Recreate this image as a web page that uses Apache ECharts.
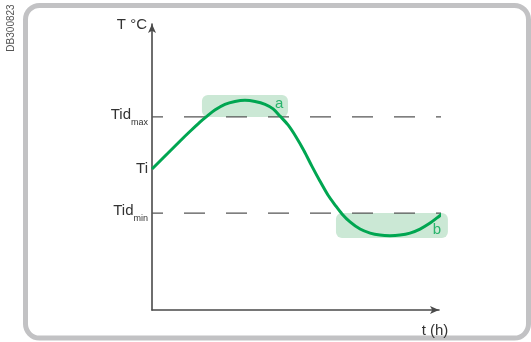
<!DOCTYPE html>
<html>
<head>
<meta charset="utf-8">
<script src="https://cdn.jsdelivr.net/npm/echarts@6/dist/echarts.min.js"></script>
<style>
  html, body { margin: 0; padding: 0; background: #fff; }
  #chart { width: 531px; height: 342px; }
</style>
</head>
<body>
<div id="chart"></div>
<script>
// temperature curve (t in % of the time axis, T in % of the temperature axis)
const curveTime = [0, 2.8, 6.3, 9.8, 13.2, 16.7, 19.2, 21.9, 25.4, 28.9, 32.4, 35.9, 39.4, 42.2, 44.6, 47.4, 50.2,
  53.0, 55.7, 58.5, 61.3, 63.8, 66.2, 69.0, 72.5, 76.0, 79.4, 82.9, 86.4, 89.9, 93.4, 96.9, 99.3, 101.4];
const curveTemp = [49.3, 52.1, 55.6, 59.1, 62.4, 65.7, 67.8, 69.9, 71.9, 72.9, 73.3, 72.9, 71.9, 70.3, 67.8, 64.7, 60.5,
  55.6, 50.3, 45.1, 40.2, 36.7, 33.6, 30.8, 28.3, 26.9, 26.2, 26.0, 26.2, 26.9, 28.3, 30.4, 32.2, 33.9];

// named levels on the temperature axis
const levelValues = [33.9, 49.3, 67.5];
const levelLabels = ['{t|Tid}{s|min}', '{n|Ti}', '{t|Tid}{s|max}'];
const dashedLevels = [67.5, 33.9];
const dashEnd = 100.7;

// highlighted zones a / b
const zoneNames = ['a', 'b'];
const zoneTime0 = [17.4, 64.1];
const zoneTime1 = [47.4, 103.1];
const zoneTemp0 = [67.5, 25.2];
const zoneTemp1 = [75.2, 33.9];
const zoneLabelTime = [44.3, 99.3];
const zoneLabelTemp = [72.0, 28.0];

const green = '#00a651';
const font = 'Liberation Sans, Arial, sans-serif';

let chart = echarts.init(document.getElementById('chart'));

let zoneData = zoneNames.map((n, i) => [zoneTime0[i], zoneTemp0[i], zoneTime1[i], zoneTemp1[i]]);
let zoneLabelData = zoneNames.map((n, i) => [zoneLabelTime[i], zoneLabelTemp[i]]);

let dashSeries = dashedLevels.map((v) => ({
  type: 'line',
  data: [[0, v], [dashEnd, v]],
  symbol: 'none',
  silent: true,
  clip: false,
  z: 3,
  lineStyle: { color: '#555', width: 1.3, type: [21, 21], dashOffset: 10 },
}));

chart.setOption({
  animation: false,
  textStyle: { fontFamily: font },
  grid: { left: 152, right: 92, top: 24, bottom: 32 },
  xAxis: {
    type: 'value',
    min: 0,
    max: 100,
    name: 't (h)',
    nameLocation: 'end',
    nameGap: -4,
    nameTextStyle: { color: '#333', fontSize: 15, align: 'center', verticalAlign: 'top', padding: [13, 0, 0, 0] },
    axisLine: { show: true, symbol: ['none', 'arrow'], symbolSize: [6, 9], lineStyle: { color: '#4a4a4a', width: 1.6 } },
    axisTick: { show: false },
    axisLabel: { show: false },
    splitLine: { show: false },
  },
  yAxis: {
    type: 'value',
    min: 0,
    max: 100,
    name: 'T °C',
    nameLocation: 'end',
    nameGap: -1,
    nameTextStyle: { color: '#333', fontSize: 15, align: 'right', verticalAlign: 'middle', padding: [0, 5, 0, 0] },
    axisLine: { show: true, symbol: ['none', 'arrow'], symbolSize: [6, 9], lineStyle: { color: '#4a4a4a', width: 1.6 } },
    axisTick: { show: false },
    splitLine: { show: false },
    axisLabel: {
      customValues: levelValues,
      margin: 4,
      formatter: function (value) {
        let idx = 0;
        levelValues.forEach((v, i) => {
          if (Math.abs(v - value) < Math.abs(levelValues[idx] - value)) idx = i;
        });
        return levelLabels[idx];
      },
      rich: {
        n: { fontSize: 15, color: '#333', fontFamily: font },
        t: { fontSize: 15, color: '#333', fontFamily: font, padding: [0, 0, 5, 0] },
        s: { fontSize: 9, color: '#333', fontFamily: font, padding: [11, 0, 0, 0] },
      },
    },
  },
  graphic: [
    {
      type: 'rect',
      shape: { x: 25.5, y: 5.5, width: 503, height: 332.5, r: 14 },
      style: { fill: 'none', stroke: '#c2c2c4', lineWidth: 5 },
      z: 0,
    },
    {
      type: 'text',
      x: 11,
      y: 28,
      rotation: Math.PI / 2,
      style: { text: 'DB300823', fontSize: 10, fill: '#555', fontFamily: font, align: 'center', verticalAlign: 'middle' },
    },
  ],
  series: [
    {
      type: 'custom',
      data: zoneData,
      clip: false,
      silent: true,
      z: 1,
      renderItem: function (params, api) {
        let p0 = api.coord([api.value(0), api.value(3)]);
        let p1 = api.coord([api.value(2), api.value(1)]);
        return {
          type: 'rect',
          shape: { x: p0[0], y: p0[1], width: p1[0] - p0[0], height: p1[1] - p0[1], r: 6 },
          style: { fill: '#cbe8d5' },
        };
      },
    },
    ...dashSeries,
    {
      type: 'line',
      data: curveTime.map((t, i) => [t, curveTemp[i]]),
      smooth: 0.3,
      symbol: 'none',
      clip: false,
      z: 5,
      lineStyle: { color: green, width: 3 },
    },
    {
      type: 'scatter',
      data: zoneLabelData,
      symbolSize: 1,
      itemStyle: { color: 'rgba(0,0,0,0)' },
      z: 6,
      label: {
        show: true,
        position: 'inside',
        color: green,
        fontSize: 15,
        fontFamily: font,
        formatter: function (p) {
          return zoneNames[p.dataIndex];
        },
      },
    },
  ],
});
</script>
</body>
</html>
